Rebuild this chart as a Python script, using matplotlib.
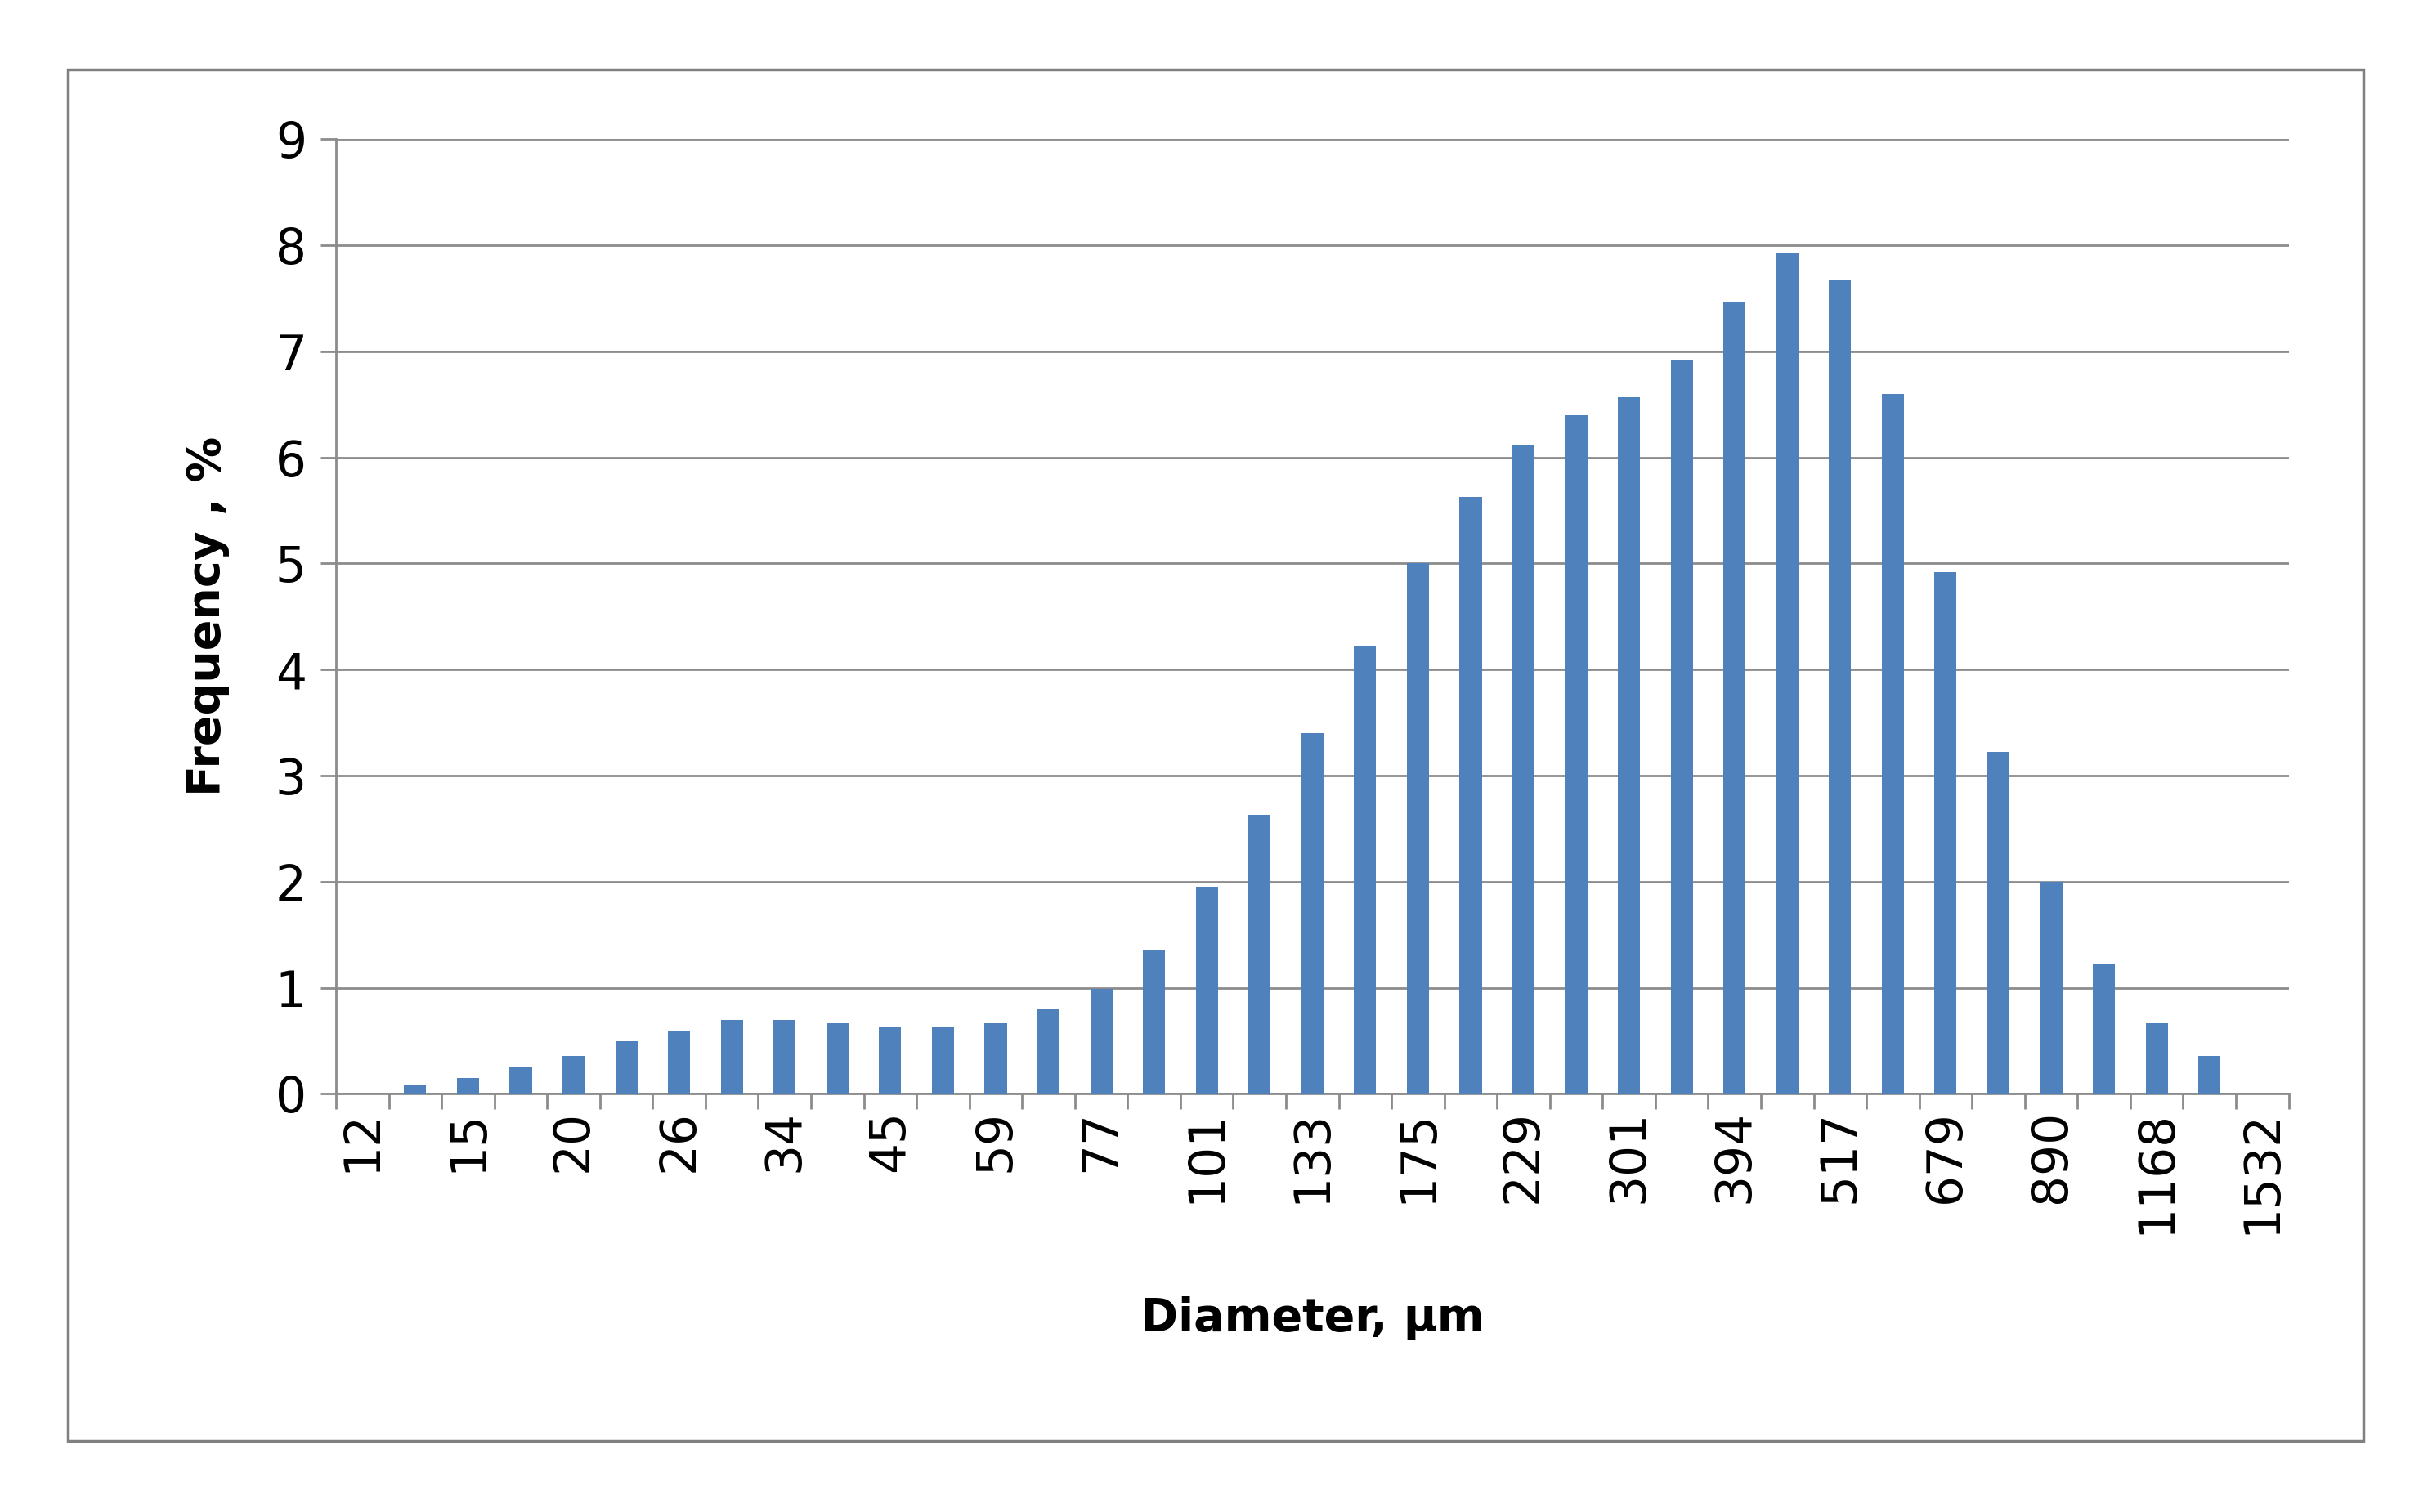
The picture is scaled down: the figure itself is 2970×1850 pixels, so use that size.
import matplotlib
matplotlib.use("Agg")
import matplotlib.pyplot as plt
from matplotlib.patches import Rectangle
import numpy as np

plt.rcParams['font.family'] = ['DejaVu Sans']

categories = ["12","13","15","17","20","23","26","30","34","39","45","52","59","68","77","88","101","116","133","153",
              "175","200","229","262","301","345","394","451","517","591","679","777","890","1019","1168","1337","1532"]
values = [0, 0.08, 0.15, 0.26, 0.36, 0.50, 0.60, 0.70, 0.70, 0.67, 0.63, 0.63, 0.67, 0.80, 0.99, 1.36, 1.95,
          2.63, 3.40, 4.22, 5.00, 5.63, 6.12, 6.40, 6.57, 6.92, 7.47, 7.92, 7.68, 6.60, 4.92, 3.22, 2.00,
          1.22, 0.67, 0.36, 0]

fig = plt.figure(figsize=(29.7, 18.5), dpi=100)
fig.patches.append(Rectangle((0.028, 0.047), 0.9455, 0.907, transform=fig.transFigure,
                             fill=False, edgecolor='#808080', linewidth=2.5))
ax = fig.add_axes([0.1384, 0.2765, 0.8042, 0.6315])
x = np.arange(len(categories))
ax.bar(x, values, width=0.42, color='#4F81BD', zorder=3)
ax.set_xlim(-0.5, len(categories) - 0.5)
ax.set_ylim(0, 9)
ax.set_yticks(range(10))
ax.yaxis.grid(True, color='#8C8C8C', linewidth=2, zorder=0)
ax.set_xticks(x[::2])
ax.set_xticklabels(categories[::2], rotation=90)
ax.set_xticks(np.arange(-0.5, len(categories), 1), minor=True)
ax.tick_params(axis='x', which='major', length=0, labelsize=43, pad=14)
ax.tick_params(axis='x', which='minor', length=14, width=2, color='#8C8C8C')
ax.tick_params(axis='y', length=14, width=2, color='#8C8C8C', labelsize=43, pad=12)
for s in ['top', 'right']:
    ax.spines[s].set_visible(False)
for s in ['left', 'bottom']:
    ax.spines[s].set_color('#8C8C8C')
    ax.spines[s].set_linewidth(2)
ax.set_xlabel("Diameter, \u00b5m", fontsize=40, fontweight='bold', labelpad=55)
ax.set_ylabel("Frequency , %", fontsize=40, fontweight='bold', labelpad=40)
fig.savefig("out.png", dpi=100)
